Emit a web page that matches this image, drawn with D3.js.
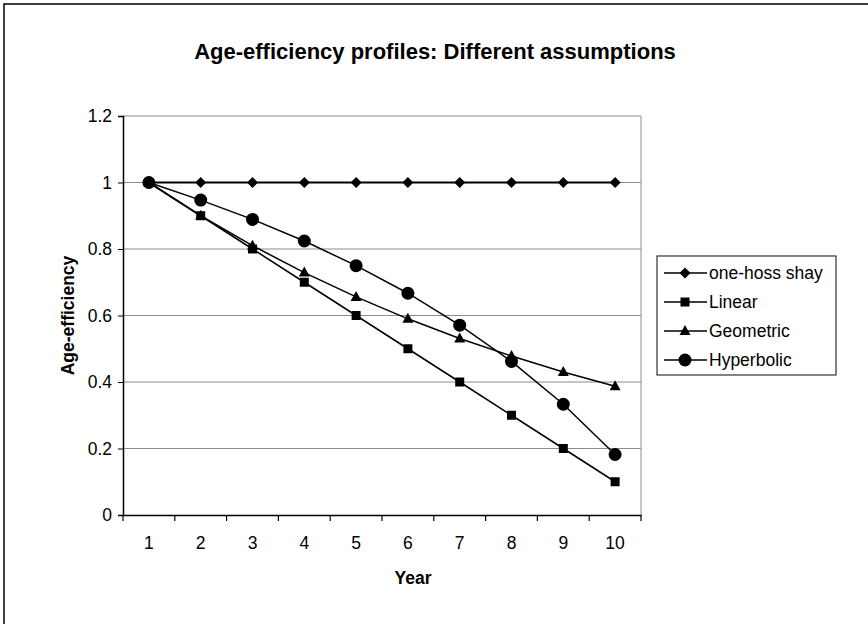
<!DOCTYPE html>
<html>
<head>
<meta charset="utf-8">
<script src="https://cdn.jsdelivr.net/npm/d3@7"></script>
<style>
  body { margin: 0; background: #fff; }
  text { font-family: Arial, "Liberation Sans", sans-serif; fill: #000; }
</style>
</head>
<body>
<div id="chart"></div>
<script>
// data
let years = [1, 2, 3, 4, 5, 6, 7, 8, 9, 10];
let oneHoss = [1, 1, 1, 1, 1, 1, 1, 1, 1, 1];
let linear = [1, 0.9, 0.8, 0.7, 0.6, 0.5, 0.4, 0.3, 0.2, 0.1];
let geometric = [1, 0.9, 0.81, 0.729, 0.656, 0.59, 0.531, 0.478, 0.43, 0.387];
let hyperbolic = [1, 0.947, 0.889, 0.824, 0.75, 0.667, 0.571, 0.462, 0.333, 0.182];
let yTicks = [0, 0.2, 0.4, 0.6, 0.8, 1, 1.2];
let seriesNames = ["one-hoss shay", "Linear", "Geometric", "Hyperbolic"];
let seriesShapes = ["diamond", "square", "triangle", "circle"];

let width = 868, height = 624;
let margin = {left: 123, right: 227, top: 116, bottom: 109};

var svg = d3.select("#chart")
            .append("svg")
            .attr("width", width)
            .attr("height", height);

// outer frame (only left + top show in the scan)
svg.append("rect")
   .attr("x", 4).attr("y", 4)
   .attr("width", width).attr("height", height)
   .attr("fill", "none")
   .attr("stroke", "#000")
   .attr("stroke-width", 1.5);

let x = d3.scaleBand()
          .domain(years)
          .range([margin.left, width - margin.right]);

let y = d3.scaleLinear()
          .domain([0, 1.2])
          .range([height - margin.bottom, margin.top]);

let plotLeft = margin.left, plotRight = width - margin.right;

// TITLE
svg.append("text")
   .attr("x", 435)
   .attr("y", 59)
   .attr("text-anchor", "middle")
   .attr("font-size", "22px")
   .attr("font-weight", "bold")
   .text("Age-efficiency profiles: Different assumptions");

// GRID
svg.append("g")
   .selectAll("line")
   .data(yTicks.filter(d => d > 0))
   .enter().append("line")
   .attr("x1", plotLeft).attr("x2", plotRight)
   .attr("y1", d => y(d)).attr("y2", d => y(d))
   .attr("stroke", "#8c8c8c")
   .attr("stroke-width", 1);

// right edge of plot area
svg.append("line")
   .attr("x1", plotRight).attr("x2", plotRight)
   .attr("y1", y(1.2)).attr("y2", y(0))
   .attr("stroke", "#8c8c8c");

// AXES
let xAxis = svg.append("g")
   .attr("transform", "translate(0," + y(0) + ")")
   .call(d3.axisBottom(x).tickSize(0).tickPadding(22));
xAxis.select(".domain").attr("stroke", "#000").attr("stroke-width", 1.5);
xAxis.selectAll("text").attr("font-size", "17.5px").attr("font-family", null);

// tick marks between categories
let boundaries = years.map(d => x(d)).concat([plotRight]);
svg.append("g")
   .selectAll("line")
   .data(boundaries)
   .enter().append("line")
   .attr("x1", d => d).attr("x2", d => d)
   .attr("y1", y(0)).attr("y2", y(0) + 6)
   .attr("stroke", "#000")
   .attr("stroke-width", 1.2);

let yAxis = svg.append("g")
   .attr("transform", "translate(" + plotLeft + ",0)")
   .call(d3.axisLeft(y).tickValues(yTicks).tickSize(5).tickPadding(6)
           .tickFormat(d => d3.format("")(+d.toFixed(1))));
yAxis.select(".domain").attr("stroke", "#000").attr("stroke-width", 1.5);
yAxis.selectAll("line").attr("stroke", "#000");
yAxis.selectAll("text").attr("font-size", "17.5px").attr("font-family", null);

// axis titles
svg.append("text")
   .attr("x", 413)
   .attr("y", 584)
   .attr("text-anchor", "middle")
   .attr("font-size", "17.5px")
   .attr("font-weight", "bold")
   .text("Year");

svg.append("text")
   .attr("transform", "translate(74," + y(0.6) + ") rotate(-90)")
   .attr("text-anchor", "middle")
   .attr("font-size", "17.5px")
   .attr("font-weight", "bold")
   .text("Age-efficiency");

// MARKERS
function marker(g, shape) {
    if (shape === "diamond") {
        g.append("path").attr("d", "M0,-5.5L5.5,0L0,5.5L-5.5,0Z");
    } else if (shape === "square") {
        g.append("rect").attr("x", -4.5).attr("y", -4.5).attr("width", 9).attr("height", 9);
    } else if (shape === "triangle") {
        g.append("path").attr("d", "M0,-6L5.5,4L-5.5,4Z");
    } else {
        g.append("circle").attr("r", 6.5);
    }
}

let allSeries = [oneHoss, linear, geometric, hyperbolic];
let line = d3.line()
             .x((d, i) => x(years[i]) + x.bandwidth() / 2)
             .y(d => y(d));

allSeries.forEach((values, k) => {
    svg.append("path")
       .datum(values)
       .attr("d", line)
       .attr("fill", "none")
       .attr("stroke", "#000")
       .attr("stroke-width", k === 0 ? 2 : 1.5);

    svg.append("g")
       .selectAll("g")
       .data(values)
       .enter().append("g")
       .attr("transform", (d, i) => "translate(" + (x(years[i]) + x.bandwidth() / 2) + "," + y(d) + ")")
       .attr("fill", "#000")
       .each(function() { marker(d3.select(this), seriesShapes[k]); });
});

// LEGEND
let legend = svg.append("g").attr("transform", "translate(657,256)");
legend.append("rect")
      .attr("width", 179).attr("height", 119)
      .attr("fill", "#fff")
      .attr("stroke", "#333")
      .attr("stroke-width", 1.2);

seriesNames.forEach((name, k) => {
    let row = legend.append("g").attr("transform", "translate(0," + (17 + k * 29) + ")");
    row.append("line")
       .attr("x1", 7).attr("x2", 50)
       .attr("stroke", "#000").attr("stroke-width", 1.5);
    let m = row.append("g").attr("transform", "translate(28,0)").attr("fill", "#000");
    marker(m, seriesShapes[k]);
    row.append("text")
       .attr("x", 52)
       .attr("y", 6)
       .attr("font-size", "17.5px")
       .text(name);
});
</script>
</body>
</html>
